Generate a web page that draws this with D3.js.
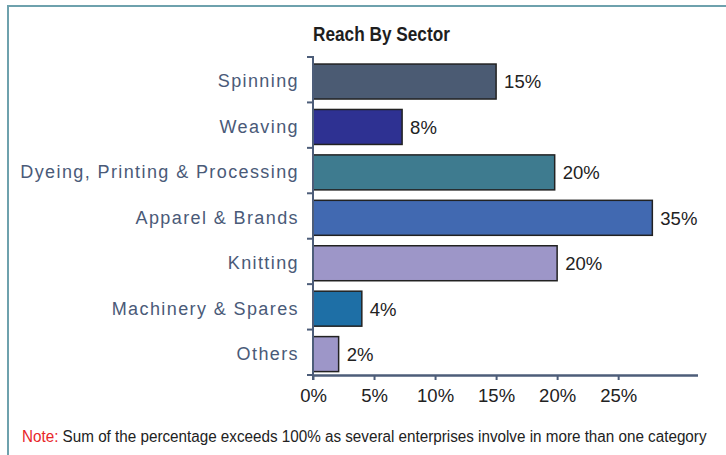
<!DOCTYPE html>
<html>
<head>
<meta charset="utf-8">
<script src="https://cdn.jsdelivr.net/npm/d3@7/dist/d3.min.js"></script>
<style>
  html, body { margin: 0; padding: 0; background: #fff; }
  svg { display: block; }
</style>
</head>
<body>
<svg id="chart" width="726" height="455"></svg>
<script>
const categories = ["Spinning", "Weaving", "Dyeing, Printing & Processing", "Apparel & Brands", "Knitting", "Machinery & Spares", "Others"];
const barValues = [15, 7.3, 19.8, 27.8, 20.0, 4.0, 2.1];
const valueLabels = ["15%", "8%", "20%", "35%", "20%", "4%", "2%"];
const barColors = ["#4b5b73", "#2e3192", "#3e7b8f", "#4169b1", "#9d96c8", "#1e6fa6", "#9d96c8"];
const xTicks = [0, 5, 10, 15, 20, 25];
const xTickLabels = ["0%", "5%", "10%", "15%", "20%", "25%"];
const titleText = "Reach By Sector";
const noteLabel = "Note:";
const noteText = " Sum of the percentage exceeds 100% as several enterprises involve in more than one category";

const svg = d3.select("#chart");
const axisColor = "#4d5d79";

// frame
svg.append("line").attr("x1", 8).attr("x2", 726).attr("y1", 6).attr("y2", 6)
  .attr("stroke", "#6ea1ad").attr("stroke-width", 2);
svg.append("line").attr("x1", 8).attr("x2", 8).attr("y1", 5).attr("y2", 455)
  .attr("stroke", "#6ea1ad").attr("stroke-width", 2);

const x = d3.scaleLinear().domain([0, 31.5]).range([313, 697.5]);
const y = d3.scaleBand().domain(categories).range([57, 375]).padding(0);
const step = y.step();

// fit a text horizontally to a target width by scaling around its left edge
function fitWidth(sel, left, width) {
  const node = sel.node();
  const w = node.getComputedTextLength();
  const k = width / w;
  sel.attr("x", 0).attr("transform", `translate(${left},0) scale(${k},1)`);
}

// title
const title = svg.append("text")
  .attr("y", 41.5)
  .attr("font-family", "'Liberation Sans', Arial, sans-serif")
  .attr("font-weight", "bold").attr("font-size", 20.5)
  .attr("fill", "#1e1e1e")
  .text(titleText);
fitWidth(title, 313, 137);

// bars
const data = categories.map((c, i) => ({ c, v: barValues[i], label: valueLabels[i], color: barColors[i] }));

svg.append("g").selectAll("rect").data(data).join("rect")
  .attr("x", x(0))
  .attr("y", d => y(d.c) + step * 0.155)
  .attr("width", d => x(d.v) - x(0))
  .attr("height", step * 0.77)
  .attr("fill", d => d.color)
  .attr("stroke", "#222")
  .attr("stroke-width", 1.5);

svg.append("g").selectAll("text").data(data).join("text")
  .attr("x", d => x(d.v) + 8)
  .attr("y", d => y(d.c) + step * 0.55)
  .attr("dy", "0.35em")
  .attr("font-family", "'Liberation Sans', Arial, sans-serif")
  .attr("font-size", 18.5)
  .attr("fill", "#222")
  .text(d => d.label);

// y axis
const yAxisG = svg.append("g").attr("transform", `translate(${x(0)},0)`);
yAxisG.append("line").attr("x1", 0).attr("x2", 0).attr("y1", 56).attr("y2", 380)
  .attr("stroke", axisColor).attr("stroke-width", 2);
const boundaries = categories.map(c => y(c)).concat([y.range()[1]]);
yAxisG.selectAll("line.tk").data(boundaries).join("line").attr("class", "tk")
  .attr("x1", -6).attr("x2", 0).attr("y1", d => d).attr("y2", d => d)
  .attr("stroke", axisColor).attr("stroke-width", 2);

svg.append("g").selectAll("text").data(categories).join("text")
  .attr("x", 299)
  .attr("y", c => y(c) + step * 0.53)
  .attr("dy", "0.35em")
  .attr("text-anchor", "end")
  .attr("font-family", "'Liberation Sans', Arial, sans-serif")
  .attr("font-size", 18)
  .attr("letter-spacing", 1.4)
  .attr("fill", "#4a5a78")
  .text(c => c);

// x axis
const xAxis = d3.axisBottom(x).tickValues(xTicks)
  .tickFormat((d, i) => xTickLabels[i]).tickSize(5).tickSizeOuter(0).tickPadding(9);
const xg = svg.append("g").attr("transform", "translate(0,375)").call(xAxis);
xg.select(".domain").attr("stroke", axisColor).attr("stroke-width", 2.5);
xg.selectAll(".tick line").attr("stroke", axisColor).attr("stroke-width", 2);
xg.selectAll(".tick text")
  .attr("font-family", "'Liberation Sans', Arial, sans-serif")
  .attr("font-size", 18.5)
  .attr("fill", "#222");

// note
const note = svg.append("text")
  .attr("y", 442)
  .attr("font-family", "'Liberation Sans', Arial, sans-serif")
  .attr("font-size", 16);
note.append("tspan").attr("fill", "#e8262a").text(noteLabel);
note.append("tspan").attr("fill", "#222").text(noteText);
fitWidth(note, 22, 685);
</script>
</body>
</html>
